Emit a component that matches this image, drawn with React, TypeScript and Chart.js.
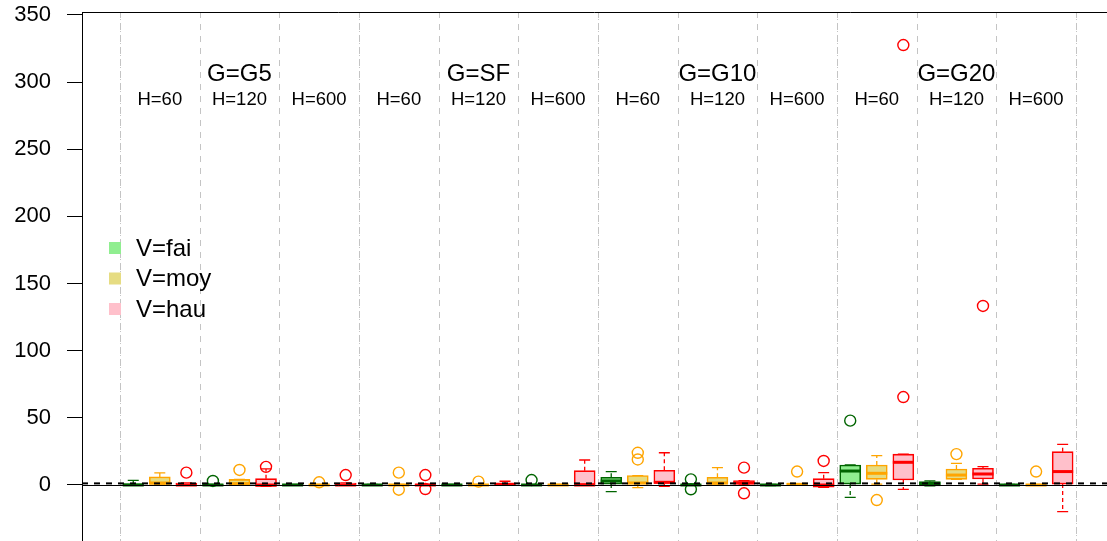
import React, { useEffect, useRef } from "react";
import { Chart, registerables } from "chart.js";

Chart.register(...registerables);

const FONT = "'Liberation Sans', Arial, Helvetica, sans-serif";

const groupLabels = ["G=G5", "G=SF", "G=G10", "G=G20"];
const hLabels = ["H=60", "H=120", "H=600"];
const seriesLabels = ["V=fai", "V=moy", "V=hau"];
const yTicks = [0, 50, 100, 150, 200, 250, 300, 350];

// Panels in order: G5 H60, G5 H120, G5 H600, SF H60, SF H120, SF H600,
// G10 H60, G10 H120, G10 H600, G20 H60, G20 H120, G20 H600
// Each entry: [min, q1, median, q3, max]
const faiStats = [
  [0, 0, 0, 1, 3.5],
  [0, 0, 0, 0.5, 0.5],
  [0, 0, 0, 0.4, 0.4],
  [0, 0, 0, 0.4, 0.4],
  [0, 0, 0, 0.4, 0.4],
  [0, 0, 0, 0.4, 0.4],
  [-5, 0.7, 3, 5.7, 10],
  [0, 0, 0, 0.4, 0.4],
  [-0.5, -0.5, 0, 0.5, 0.5],
  [-9.2, 0.7, 10.4, 14.9, 14.9],
  [-0.7, -0.7, 1, 2.5, 3],
  [0, 0, 0, 0.4, 0.4],
];
const faiOutliers = [[], [3], [], [], [], [3.7], [], [4.2, -3.2], [], [47.9], [], []];

const moyStats = [
  [0, 0, 1.5, 6, 9],
  [0, 0, 1, 4.2, 4.2],
  [0, 0, 0, 0.4, 0.4],
  [0, 0, 0, 0.4, 0.4],
  [0, 0, 0, 0.4, 0.4],
  [0, 0, 0, 0.4, 0.4],
  [-2, 0.7, 1.5, 7, 7],
  [0, 0.7, 1.5, 5.7, 12.9],
  [0, 0, 0.5, 1, 1],
  [0.7, 4.2, 8.7, 14.9, 21.8],
  [4.2, 4.2, 7.4, 11.9, 16.1],
  [0, 0, 0, 0.4, 0.4],
];
const moyOutliers = [[], [11.2], [2], [9.2, -3.5], [2.5], [], [19, 24], [], [10], [-11.2], [23], [10]];

const hauStats = [
  [0, 0, 0, 1.5, 1.5],
  [-1, -1, 0, 4.7, 12],
  [0, 0, 0, 1.5, 1.5],
  [0, 0, 0, 0.4, 0.4],
  [0, 0, 0.5, 1.5, 2.8],
  [0, 0, 0, 10.7, 18.6],
  [-1, 1.2, 2, 11, 24],
  [0, 0.7, 1.5, 3.3, 3.3],
  [-1.7, -1.7, 0, 4.7, 9.2],
  [-3.2, 3.7, 16.9, 23, 23],
  [0.7, 4.5, 8.2, 12.4, 13.7],
  [-19.9, 0.7, 10, 24.8, 30.3],
];
const hauOutliers = [[9.2], [13.5], [7.4], [7.4, -3], [], [], [], [12.9, -6.2], [17.9], [65.5, 327.6], [133.3], []];

const allStats = [faiStats, moyStats, hauStats];
const allOutliers = [faiOutliers, moyOutliers, hauOutliers];

const lineColors = ["#006400", "#FFA500", "#FF0000"];
const fillColors = ["#90EE90", "#E6DC82", "#FFC0CB"];
const gridColor = "#c4c4c4";

const slotX = (panel: number, series: number) => panel * 3 + series + 0.5;

const boxPlugin = {
  id: "boxParts",
  beforeDatasetsDraw(chart: any) {
    const { ctx, chartArea, scales } = chart;
    const xs = scales.x;
    const ys = scales.y;
    ctx.save();
    // vertical separators between H panels
    for (let k = 0; k <= 12; k++) {
      const px = Math.round(xs.getPixelForValue(k * 3)) + 0.5;
      ctx.strokeStyle = gridColor;
      ctx.lineWidth = 1;
      ctx.setLineDash([6, 6]);
      ctx.beginPath();
      ctx.moveTo(px, chartArea.top);
      ctx.lineTo(px, chartArea.bottom);
      ctx.stroke();
      if (k % 3 === 0) {
        ctx.setLineDash([1, 3]);
        ctx.lineDashOffset = -7;
        ctx.beginPath();
        ctx.moveTo(px, chartArea.top);
        ctx.lineTo(px, chartArea.bottom);
        ctx.stroke();
        ctx.lineDashOffset = 0;
      }
    }
    ctx.setLineDash([]);
    // whiskers
    const half = 5.5;
    allStats.forEach((stats, j) => {
      ctx.strokeStyle = lineColors[j];
      ctx.lineWidth = 1.3;
      stats.forEach((s, p) => {
        const cx = xs.getPixelForValue(slotX(p, j));
        const yMin = ys.getPixelForValue(s[0]);
        const yQ1 = ys.getPixelForValue(s[1]);
        const yQ3 = ys.getPixelForValue(s[3]);
        const yMax = ys.getPixelForValue(s[4]);
        ctx.setLineDash([4, 3]);
        ctx.beginPath();
        if (s[4] > s[3]) {
          ctx.moveTo(cx, yQ3);
          ctx.lineTo(cx, yMax);
        }
        if (s[0] < s[1]) {
          ctx.moveTo(cx, yQ1);
          ctx.lineTo(cx, yMin);
        }
        ctx.stroke();
        ctx.setLineDash([]);
        ctx.beginPath();
        ctx.moveTo(cx - half, yMax);
        ctx.lineTo(cx + half, yMax);
        ctx.moveTo(cx - half, yMin);
        ctx.lineTo(cx + half, yMin);
        ctx.stroke();
      });
    });
    ctx.restore();
  },
  afterDatasetsDraw(chart: any) {
    const { ctx, chartArea, scales } = chart;
    const xs = scales.x;
    const ys = scales.y;
    ctx.save();
    // medians
    allStats.forEach((stats, j) => {
      ctx.strokeStyle = lineColors[j];
      ctx.lineWidth = 3;
      stats.forEach((s, p) => {
        const cx = xs.getPixelForValue(slotX(p, j));
        const y = ys.getPixelForValue(s[2]);
        ctx.beginPath();
        ctx.moveTo(cx - 10.5, y);
        ctx.lineTo(cx + 10.5, y);
        ctx.stroke();
      });
    });
    // zero reference lines
    const y0 = Math.round(ys.getPixelForValue(0)) + 0.5;
    ctx.strokeStyle = "#000";
    ctx.lineWidth = 1;
    ctx.beginPath();
    ctx.moveTo(chartArea.left, y0);
    ctx.lineTo(chartArea.right, y0);
    ctx.stroke();
    const yd = ys.getPixelForValue(1.2);
    ctx.lineWidth = 2;
    ctx.setLineDash([6, 6]);
    ctx.beginPath();
    ctx.moveTo(chartArea.left, yd);
    ctx.lineTo(chartArea.right, yd);
    ctx.stroke();
    ctx.setLineDash([]);
    // top frame
    ctx.lineWidth = 1;
    ctx.beginPath();
    ctx.moveTo(chartArea.left, chartArea.top + 0.5);
    ctx.lineTo(chartArea.right, chartArea.top + 0.5);
    ctx.stroke();
    // group / H labels
    ctx.fillStyle = "#000";
    ctx.textAlign = "center";
    ctx.textBaseline = "middle";
    ctx.font = `24px ${FONT}`;
    groupLabels.forEach((g, gi) => {
      ctx.fillText(g, xs.getPixelForValue(gi * 9 + 4.5), ys.getPixelForValue(306));
    });
    ctx.font = `18.5px ${FONT}`;
    for (let p = 0; p < 12; p++) {
      ctx.fillText(hLabels[p % 3], xs.getPixelForValue(p * 3 + 1.5), ys.getPixelForValue(286.5));
    }
    // legend
    ctx.textAlign = "left";
    ctx.font = `24px ${FONT}`;
    seriesLabels.forEach((lab, j) => {
      const cy = 248 + j * 30.5;
      ctx.fillStyle = fillColors[j];
      ctx.fillRect(109, cy - 6, 12, 12);
      ctx.fillStyle = "#000";
      ctx.fillText(lab, 136, cy + 1);
    });
    ctx.restore();
  },
};

export default function App() {
  const ref = useRef<HTMLCanvasElement | null>(null);
  useEffect(() => {
    if (!ref.current) return;
    const datasets: any[] = [];
    allStats.forEach((stats, j) => {
      datasets.push({
        type: "bar",
        label: seriesLabels[j],
        data: stats.map((s, p) => ({ x: slotX(p, j), y: [s[1], s[3]] })),
        backgroundColor: fillColors[j],
        borderColor: lineColors[j],
        borderWidth: 1.6,
        borderSkipped: false,
        barThickness: 21,
        grouped: false,
        order: 2,
      });
    });
    allOutliers.forEach((outs, j) => {
      const pts: { x: number; y: number }[] = [];
      outs.forEach((list, p) => list.forEach((v) => pts.push({ x: slotX(p, j), y: v })));
      datasets.push({
        type: "scatter",
        label: seriesLabels[j] + " outliers",
        data: pts,
        pointStyle: "circle",
        pointRadius: 5.5,
        pointBorderWidth: 1.4,
        pointBackgroundColor: "rgba(0,0,0,0)",
        pointBorderColor: lineColors[j],
        showLine: false,
        order: 1,
      });
    });
    const chart = new Chart(ref.current, {
      type: "bar",
      data: { datasets },
      options: {
        animation: false,
        responsive: false,
        devicePixelRatio: 1,
        layout: { autoPadding: false, padding: { top: 12, left: 0, right: 0, bottom: 0 } },
        plugins: { legend: { display: false }, tooltip: { enabled: false } },
        scales: {
          x: { type: "linear", min: -1.43, max: 37.17, display: false, offset: false, grid: { offset: false } },
          y: {
            type: "linear",
            min: -41.7,
            max: 352.2,
            afterBuildTicks: (s: any) => {
              s.ticks = yTicks.map((v) => ({ value: v }));
            },
            afterFit: (s: any) => {
              s.width = 82;
              s.paddingTop = 0;
              s.paddingBottom = 0;
            },
            ticks: {
              color: "#000",
              font: { size: 22, family: FONT },
              padding: 16,
            },
            grid: {
              drawOnChartArea: false,
              drawTicks: true,
              tickLength: 15,
              color: "#000",
              lineWidth: 1,
            },
            border: { display: true, color: "#000", width: 1 },
          },
        },
      },
      plugins: [boxPlugin],
    } as any);
    return () => chart.destroy();
  }, []);
  return (
    <div style={{ position: "absolute", left: 0, top: 0, width: 1107, height: 541 }}>
      <canvas ref={ref} width={1107} height={541} style={{ display: "block" }} />
    </div>
  );
}
